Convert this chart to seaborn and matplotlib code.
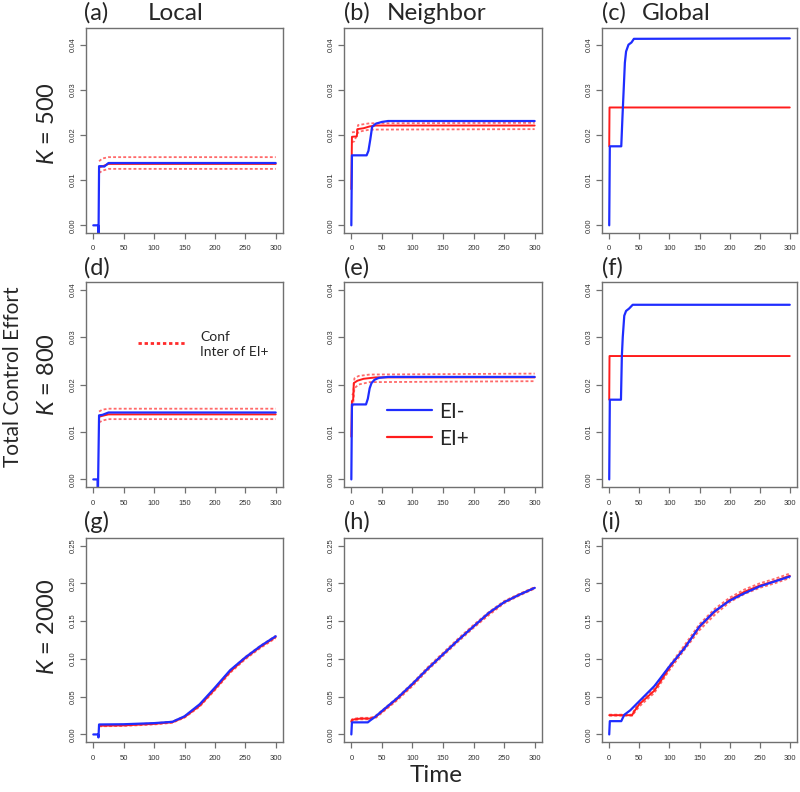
import matplotlib
matplotlib.use("Agg")
import matplotlib.pyplot as plt
import seaborn as sns

# ---------------- data ----------------
time_ticks = [0, 50, 100, 150, 200, 250, 300]
yticks_small = [0.00, 0.01, 0.02, 0.03, 0.04]
yticks_large = [0.00, 0.05, 0.10, 0.15, 0.20, 0.25]
col_titles = ["Local", "Neighbor", "Global"]
panel_letters = ["(a)", "(b)", "(c)", "(d)", "(e)", "(f)", "(g)", "(h)", "(i)"]
row_labels = ["$K$ = 500", "$K$ = 800", "$K$ = 2000"]

# (a) Local, K=500
a_blue_t = [0, 8, 8.5, 9.5, 14, 18, 25, 300]
a_blue_y = [0, 0, -0.004, 0.0131, 0.0131, 0.0130, 0.0138, 0.0138]
a_red_t = [9.5, 14, 25, 300]
a_red_y = [0.0129, 0.0130, 0.0136, 0.0136]
a_ci_t = [9.5, 15, 25, 300]
a_up_y = [0.0142, 0.0148, 0.0151, 0.0151]
a_lo_y = [0.0116, 0.0121, 0.0125, 0.0125]

# (b) Neighbor, K=500
b_blue_t = [0, 1, 25, 28, 31, 34, 40, 50, 60, 300]
b_blue_y = [0, 0.0155, 0.0155, 0.0165, 0.019, 0.0218, 0.0225, 0.0229, 0.0231, 0.0231]
b_red_t = [0, 1, 9, 10, 20, 30, 40, 300]
b_red_y = [0.008, 0.0196, 0.0197, 0.0213, 0.0215, 0.0219, 0.0221, 0.0221]
b_up_t = [1, 9, 11, 30, 300]
b_up_y = [0.0206, 0.0207, 0.0222, 0.0226, 0.0227]
b_lo_t = [1, 5, 10, 15, 30, 300]
b_lo_y = [0.0184, 0.0186, 0.0204, 0.0208, 0.0212, 0.0213]

# (c) Global, K=500
c_blue_t = [0, 1, 20, 22, 24, 26, 28, 32, 37, 41, 300]
c_blue_y = [0, 0.0175, 0.0175, 0.024, 0.030, 0.036, 0.0385, 0.040, 0.0405, 0.0413, 0.0414]
c_red_t = [0, 0.5, 300]
c_red_y = [0.0175, 0.0261, 0.0261]

# (d) Local, K=800
d_blue_t = [0, 7, 7.5, 9.5, 15, 25, 300]
d_blue_y = [0, 0, -0.004, 0.0135, 0.0136, 0.0141, 0.0141]
d_red_t = [9.5, 15, 25, 300]
d_red_y = [0.0132, 0.0134, 0.0137, 0.0137]
d_ci_t = [9.5, 15, 25, 300]
d_up_y = [0.0143, 0.0147, 0.0149, 0.0149]
d_lo_y = [0.0120, 0.0124, 0.0127, 0.0127]

# (e) Neighbor, K=800
e_blue_t = [0, 1, 24, 27, 30, 33, 38, 45, 60, 300]
e_blue_y = [0, 0.0158, 0.0158, 0.017, 0.0192, 0.0203, 0.021, 0.0214, 0.0216, 0.0216]
e_red_t = [0, 1, 3, 4, 10, 20, 40, 300]
e_red_y = [0.009, 0.0165, 0.0168, 0.0203, 0.0208, 0.0212, 0.0215, 0.0215]
e_ci_t = [1, 3, 5, 12, 30, 300]
e_up_y = [0.0178, 0.0180, 0.0213, 0.0218, 0.0221, 0.0223]
e_lo_y = [0.0152, 0.0158, 0.0192, 0.0200, 0.0205, 0.0207]

# (f) Global, K=800
f_blue_t = [0, 1, 19.5, 21, 22.5, 25, 28, 33, 39, 300]
f_blue_y = [0, 0.0168, 0.0168, 0.026, 0.030, 0.0345, 0.0355, 0.036, 0.0368, 0.0368]
f_red_t = [0, 0.5, 300]
f_red_y = [0.0168, 0.026, 0.026]

# (g) Local, K=2000
g_blue_t = [0, 8, 8.5, 9.5, 50, 100, 130, 150, 175, 200, 225, 250, 275, 300]
g_blue_y = [0, 0, -0.004, 0.0132, 0.0135, 0.015, 0.0167, 0.024, 0.040, 0.062, 0.085, 0.102, 0.117, 0.130]
g_red_t = [9.5, 50, 100, 130, 150, 175, 200, 225, 250, 275, 300]
g_red_y = [0.0115, 0.0120, 0.0140, 0.0162, 0.0230, 0.0380, 0.0600, 0.0830, 0.1010, 0.1160, 0.1290]
g_up_y = [0.0123, 0.0128, 0.0148, 0.0170, 0.0240, 0.0393, 0.0614, 0.0845, 0.1025, 0.1175, 0.1305]
g_lo_y = [0.0108, 0.0112, 0.0132, 0.0154, 0.0222, 0.0368, 0.0585, 0.0815, 0.0995, 0.1145, 0.1275]

# (h) Neighbor, K=2000
h_blue_t = [0, 1, 27, 30, 40, 50, 75, 100, 125, 150, 175, 200, 225, 250, 275, 300]
h_blue_y = [0, 0.016, 0.016, 0.018, 0.024, 0.031, 0.048, 0.067, 0.087, 0.106, 0.125, 0.143, 0.161, 0.175, 0.185, 0.194]
h_red_t = [0, 1, 5, 15, 30, 35, 40, 50, 75, 100, 125, 150, 175, 200, 225, 250, 275, 300]
h_red_y = [0.017, 0.019, 0.020, 0.021, 0.021, 0.022, 0.0235, 0.030, 0.047, 0.066, 0.087, 0.106, 0.125, 0.143, 0.160, 0.175, 0.185, 0.194]
h_up_y = [0.018, 0.020, 0.021, 0.022, 0.022, 0.023, 0.0250, 0.0315, 0.0488, 0.0680, 0.0890, 0.1080, 0.1270, 0.1450, 0.1620, 0.1765, 0.1862, 0.1950]
h_lo_y = [0.016, 0.018, 0.019, 0.020, 0.020, 0.021, 0.0220, 0.0285, 0.0452, 0.0640, 0.0850, 0.1040, 0.1230, 0.1410, 0.1580, 0.1735, 0.1838, 0.1930]

# (i) Global, K=2000
i_blue_t = [0, 1, 20, 25, 35, 50, 75, 100, 125, 150, 175, 200, 225, 250, 275, 300]
i_blue_y = [0, 0.0176, 0.0176, 0.026, 0.032, 0.044, 0.064, 0.090, 0.114, 0.143, 0.163, 0.177, 0.187, 0.196, 0.2025, 0.209]
i_red_t = [0, 38, 42, 50, 75, 100, 125, 150, 175, 200, 225, 250, 275, 300]
i_red_y = [0.0255, 0.0255, 0.031, 0.040, 0.058, 0.088, 0.115, 0.142, 0.162, 0.178, 0.189, 0.197, 0.203, 0.210]
i_up_y = [0.0262, 0.0262, 0.033, 0.043, 0.061, 0.091, 0.118, 0.146, 0.166, 0.181, 0.192, 0.200, 0.206, 0.213]
i_lo_y = [0.0248, 0.0248, 0.029, 0.037, 0.055, 0.085, 0.112, 0.138, 0.158, 0.175, 0.186, 0.194, 0.200, 0.207]

# ---------------- style ----------------
sns.set_style("white")
plt.rcParams["font.family"] = ["Lato", "DejaVu Sans"]
plt.rcParams["mathtext.fontset"] = "custom"
plt.rcParams["mathtext.rm"] = "Lato"
plt.rcParams["mathtext.it"] = "Lato:italic"

BLUE = "#1f2dff"
RED = "#ff1c1c"
CI = "#ff6a6a"
SPINE = "#707070"

W, H = 800, 792
fig = plt.figure(figsize=(W / 100, H / 100), dpi=100)

cols_px = [(86, 283), (344, 542), (602, 797)]
rows_px = [(28, 233), (282, 487), (538, 742)]
ylims = [(-0.0017, 0.0437), (-0.0016, 0.0416), (-0.010, 0.260)]


def px_axes(c, r):
    l, rr = cols_px[c]
    t, b = rows_px[r]
    return fig.add_axes([l / W, 1 - b / H, (rr - l) / W, (b - t) / H])


def line(ax, t, y, color, lw, dotted=False):
    kw = dict(x=t, y=y, ax=ax, color=color, linewidth=lw,
              estimator=None, sort=False)
    if dotted:
        kw["linestyle"] = (0, (1.6, 1.2))
    sns.lineplot(**kw)


panels = [
    # (blue_t, blue_y, red_t, red_y, ci list)
    (a_blue_t, a_blue_y, a_red_t, a_red_y, [(a_ci_t, a_up_y), (a_ci_t, a_lo_y)]),
    (b_blue_t, b_blue_y, b_red_t, b_red_y, [(b_up_t, b_up_y), (b_lo_t, b_lo_y)]),
    (c_blue_t, c_blue_y, c_red_t, c_red_y, []),
    (d_blue_t, d_blue_y, d_red_t, d_red_y, [(d_ci_t, d_up_y), (d_ci_t, d_lo_y)]),
    (e_blue_t, e_blue_y, e_red_t, e_red_y, [(e_ci_t, e_up_y), (e_ci_t, e_lo_y)]),
    (f_blue_t, f_blue_y, f_red_t, f_red_y, []),
    (g_blue_t, g_blue_y, g_red_t, g_red_y, [(g_red_t, g_up_y), (g_red_t, g_lo_y)]),
    (h_blue_t, h_blue_y, h_red_t, h_red_y, [(h_red_t, h_up_y), (h_red_t, h_lo_y)]),
    (i_blue_t, i_blue_y, i_red_t, i_red_y, [(i_red_t, i_up_y), (i_red_t, i_lo_y)]),
]

for idx, (bt, by, rt, ry, cis) in enumerate(panels):
    r, c = divmod(idx, 3)
    ax = px_axes(c, r)
    for (ct, cy) in cis:
        line(ax, ct, cy, CI, 1.3, dotted=True)
    line(ax, rt, ry, RED, 1.4)
    line(ax, bt, by, BLUE, 1.6)

    ax.set_xlim(-12, 312)
    ax.set_ylim(*ylims[r])
    ax.set_xticks(time_ticks)
    ax.set_xticklabels([str(v) for v in time_ticks])
    yt = yticks_large if r == 2 else yticks_small
    ax.set_yticks(yt)
    ax.set_yticklabels([f"{v:.2f}" for v in yt])
    ax.set_xlabel("")
    ax.set_ylabel("")
    for s in ax.spines.values():
        s.set_color(SPINE)
        s.set_linewidth(1.0)
        s.set_visible(True)
    ax.tick_params(axis="both", direction="out", length=4, width=0.9,
                   color=SPINE, labelcolor="#333333", labelsize=5.5,
                   bottom=True, left=True)
    ax.tick_params(axis="y", pad=3)
    ax.tick_params(axis="x", pad=5)
    for lbl in ax.get_yticklabels():
        lbl.set_rotation(90)
        lbl.set_va("center")
        lbl.set_family(["Liberation Sans", "DejaVu Sans"])
    for lbl in ax.get_xticklabels():
        lbl.set_family(["Liberation Sans", "DejaVu Sans"])


def ftext(x, y, s, **kw):
    return fig.text(x / W, 1 - y / H, s, **kw)


# panel letters and column titles
title_y = [13, 268, 522]
letter_x = [84, 344, 602]
title_x = [148, 387, 642]
for idx, letter in enumerate(panel_letters):
    r, c = divmod(idx, 3)
    ftext(letter_x[c], title_y[r], letter, fontsize=17, ha="left", va="center")
for c, name in enumerate(col_titles):
    ftext(title_x[c], title_y[0], name, fontsize=17.5, ha="left", va="center")

# row labels
for ry, lab in zip([124, 375, 627], row_labels):
    ftext(47, ry, lab, fontsize=17, rotation=90, ha="center", va="center")

ftext(13, 377, "Total Control Effort", fontsize=15, rotation=90,
      ha="center", va="center")
ftext(436, 775, "Time", fontsize=17.5, ha="center", va="center")

# legend in (d): confidence interval
leg_ax = fig.add_axes([0, 0, 1, 1], facecolor="none")
leg_ax.set_xlim(0, W)
leg_ax.set_ylim(H, 0)
leg_ax.axis("off")
leg_ax.plot([138, 185], [343, 343], color="#ff2a2a", lw=2.0,
            linestyle=(0, (1.2, 1.0)))
ftext(200, 337, "Conf", fontsize=10, ha="left", va="center")
ftext(200, 352, "Inter of EI+", fontsize=10, ha="left", va="center")

# legend in (e)
leg_ax.plot([387, 432], [410, 410], color=BLUE, lw=1.6)
leg_ax.plot([387, 432], [437, 437], color=RED, lw=1.6)
ftext(439, 412, "EI-", fontsize=15, ha="left", va="center")
ftext(439, 439, "EI+", fontsize=15, ha="left", va="center")

fig.savefig("out.png", dpi=100)
